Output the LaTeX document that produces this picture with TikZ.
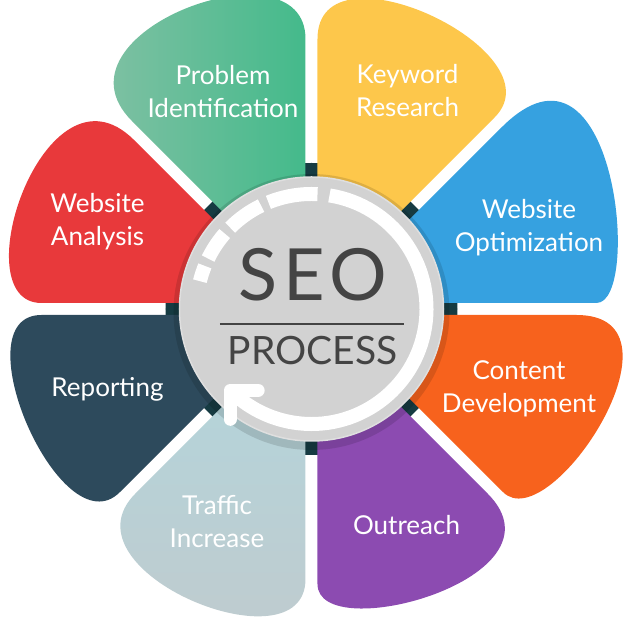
\documentclass[tikz,border=0pt]{standalone}
\usepackage{fontspec}
\setmainfont{Lato}
\usepackage{tikz}
\usetikzlibrary{calc}
\definecolor{ringDark}{HTML}{163B42}
\definecolor{hubGray}{HTML}{D2D2D2}
\definecolor{textGray}{HTML}{444444}
\definecolor{greenIn}{HTML}{44BA8B}
\definecolor{greenOut}{HTML}{90C2AA}
\definecolor{yellowP}{HTML}{FDC74B}
\definecolor{blueP}{HTML}{36A1E0}
\definecolor{orangeP}{HTML}{F7621D}
\definecolor{purpleP}{HTML}{8C4BB1}
\definecolor{trafficIn}{HTML}{B4D4DA}
\definecolor{trafficOut}{HTML}{C1CACD}
\definecolor{reportP}{HTML}{2D4A5C}
\definecolor{redP}{HTML}{E8393B}
\tikzset{%
	pBlue/.style    = {fill=blueP},
	pYellow/.style  = {fill=yellowP},
	pGreen/.style   = {left color=greenOut, right color=greenIn},
	pRed/.style     = {fill=redP},
	pReport/.style  = {fill=reportP},
	pTraffic/.style = {top color=trafficIn, bottom color=trafficOut},
	pPurple/.style  = {fill=purpleP},
	pOrange/.style  = {fill=orangeP},
	petaltext/.style = {text=white, align=center, font=\fontsize{26}{33}\selectfont},
	arcline/.style  = {white, line width=14pt},
	dashseg/.style  = {white, line width=14pt},
	arrowarm/.style = {white, line width=13pt, line cap=round, line join=round},
}

\begin{document}
\begin{tikzpicture}[x=1pt,y=1pt]
	\useasboundingbox (-311.5,-308) rectangle (312.5,309);
	
	\fill[ringDark] (0,0) circle (146);
	
	\foreach \a/\sty/\sa/\ca/\sb/\cb in {0/pBlue/285/331/263/424, 45/pYellow/265/358/270/372, 90/pGreen/270/372/260/385, 135/pRed/245/370/270/351, 180/pReport/270/353/265/348, 225/pTraffic/255/365/270/363, 270/pPurple/275/338/255/375, 315/pOrange/265/331/265/385}{
		\begin{scope}[rotate=\a]
			\path[\sty] (100,6) -- (\sa,6) .. controls (\ca,6) and ($(45:\cb)+(-45:6)$) .. ($(45:\sb)+(-45:6)$) -- ($(45:100)+(-45:6)$) -- cycle;
		\end{scope}
	}
	
	\fill[black,opacity=.12] (0,-3) circle (138);
	\node[circle, fill=hubGray, draw=gray!25, line width=1.5pt, minimum size=264pt, inner sep=0pt] (hub) at (0,0) {};
	
	\draw[arcline] (81:115) arc[start angle=81, end angle=-135, radius=115];
	\foreach \s/\e in {87/112, 116/135, 139/154, 158/166}
		\draw[dashseg] (\s:115) arc[start angle=\s, end angle=\e, radius=115];
	\coordinate (tip) at (-135:115);
	\draw[arrowarm] ($(tip)+(28,0)$) -- (tip) -- ($(tip)+(0,-29)$);
	
	\node[text=textGray, font=\fontsize{72}{72}\selectfont\addfontfeatures{LetterSpace=8}] (seo) at (1,34) {SEO};
	\node[text=textGray, font=\fontsize{39}{39}\selectfont] (process) at (1,-42) {PROCESS};
	\draw[textGray, line width=2pt] (-91.5,-14.7) -- (92.5,-14.7);
	
	\node[petaltext] (problem) at (-88.5,217) {Problem\\Identification};
	\node[petaltext] (keyword) at (96,218.5) {Keyword\\Research};
	\node[petaltext] (optim) at (217.5,81) {Website\\Optimization};
	\node[petaltext] (content) at (207.5,-80) {Content\\Development};
	\node[petaltext] (outreach) at (95,-216) {Outreach};
	\node[petaltext] (traffic) at (-94.5,-212.5) {Traffic\\Increase};
	\node[petaltext] (report) at (-204,-80) {Reporting};
	\node[petaltext] (analysis) at (-214,87.5) {Website\\Analysis};
	
\end{tikzpicture}
\end{document}
